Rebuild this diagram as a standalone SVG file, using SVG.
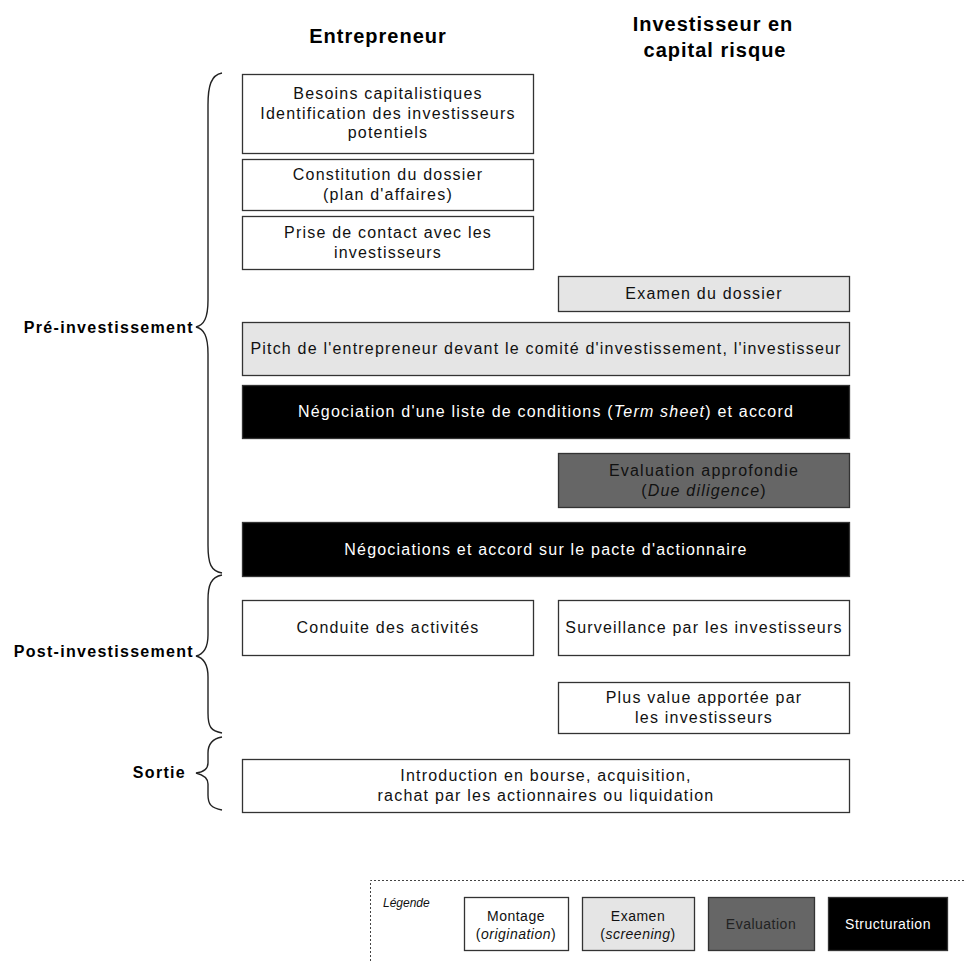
<svg xmlns="http://www.w3.org/2000/svg" width="964" height="961" viewBox="0 0 964 961">
<style>
.bg{fill:#fff}
.box{stroke:#333;stroke-width:1.3}
.w{fill:#fff}
.g{fill:#e5e5e5}
.d{fill:#666}
.k{fill:#000}
.t{font-family:"Liberation Sans",Arial,sans-serif;font-size:16px;letter-spacing:1.2px;text-anchor:middle;fill:#111}
.tw{fill:#fff}
.h{font-family:"Liberation Sans",Arial,sans-serif;font-size:20px;font-weight:bold;letter-spacing:1px;text-anchor:middle;fill:#000}
.ph{font-family:"Liberation Sans",Arial,sans-serif;font-size:16px;font-weight:bold;letter-spacing:1.3px;text-anchor:end;fill:#000}
.br{fill:none;stroke:#222;stroke-width:1.4}
.lg{font-family:"Liberation Sans",Arial,sans-serif;font-size:14px;letter-spacing:0.5px;text-anchor:middle;fill:#111}
.lgd{fill:#222}
.lgw{fill:#fff}
</style>
<rect class="bg" x="0" y="0" width="964" height="961"/>
<g id="headers">
<text class="h" x="378" y="43">Entrepreneur</text>
<text class="h" x="713" y="31">Investisseur en</text>
<text class="h" x="715" y="57">capital risque</text>
</g>
<g id="phases">
<text class="ph" x="194" y="333">Pré-investissement</text>
<text class="ph" x="194" y="657">Post-investissement</text>
<text class="ph" x="186" y="778">Sortie</text>
</g>
<g id="connectors">
<path class="br" d="M222,73 C211,75 208,86 208,105 L208,300 C208,318 204,325 196,327 C204,329 208,336 208,354 L208,545 C208,564 211,571 222,573"/>
<path class="br" d="M222,575 C211,577 208,585 208,600 L208,635 C208,648 204,654 196,656 C204,658 208,664 208,677 L208,713 C208,727 211,731 222,733"/>
<path class="br" d="M222,737 C211,739 208,745 208,753 L208,763 C208,769 204,772 196,773 C204,775 208,778 208,784 L208,795 C208,804 211,808 222,810"/>
</g>
<g id="n1"><rect class="box w" x="242.5" y="74.5" width="291" height="79"/>
<text class="t" x="388" y="99">Besoins capitalistiques</text>
<text class="t" x="388" y="119">Identification des investisseurs</text>
<text class="t" x="388" y="138">potentiels</text></g>
<g id="n2"><rect class="box w" x="242.5" y="159.5" width="291" height="51"/>
<text class="t" x="388" y="180">Constitution du dossier</text>
<text class="t" x="388" y="200">(plan d'affaires)</text></g>
<g id="n3"><rect class="box w" x="242.5" y="216.5" width="291" height="53"/>
<text class="t" x="388" y="238">Prise de contact avec les</text>
<text class="t" x="388" y="258">investisseurs</text></g>
<g id="n4"><rect class="box g" x="558.5" y="276.5" width="291" height="35"/>
<text class="t" x="704" y="299">Examen du dossier</text></g>
<g id="n5"><rect class="box g" x="242.5" y="322.5" width="607" height="53"/>
<text class="t" x="546" y="354">Pitch de l'entrepreneur devant le comité d'investissement, l'investisseur</text></g>
<g id="n6"><rect class="box k" x="242.5" y="385.5" width="607" height="53"/>
<text class="t tw" x="546" y="417">Négociation d'une liste de conditions (<tspan font-style="italic">Term sheet</tspan>) et accord</text></g>
<g id="n7"><rect class="box d" x="558.5" y="453.5" width="291" height="54"/>
<text class="t" x="704" y="476">Evaluation approfondie</text>
<text class="t" x="704" y="496">(<tspan font-style="italic">Due diligence</tspan>)</text></g>
<g id="n8"><rect class="box k" x="242.5" y="522.5" width="607" height="54"/>
<text class="t tw" x="546" y="555">Négociations et accord sur le pacte d'actionnaire</text></g>
<g id="n9"><rect class="box w" x="242.5" y="600.5" width="291" height="55"/>
<text class="t" x="388" y="633">Conduite des activités</text></g>
<g id="n10"><rect class="box w" x="558.5" y="600.5" width="291" height="55"/>
<text class="t" x="704" y="633">Surveillance par les investisseurs</text></g>
<g id="n11"><rect class="box w" x="558.5" y="682.5" width="291" height="51"/>
<text class="t" x="704" y="703">Plus value apportée par</text>
<text class="t" x="704" y="723">les investisseurs</text></g>
<g id="n12"><rect class="box w" x="242.5" y="759.5" width="607" height="53"/>
<text class="t" x="546" y="781">Introduction en bourse, acquisition,</text>
<text class="t" x="546" y="801">rachat par les actionnaires ou liquidation</text></g>
<g id="legend">
<path d="M370.5,961 L370.5,880.5 L964,880.5" fill="none" stroke="#444" stroke-width="1" stroke-dasharray="2,2"/>
<text x="383" y="907" font-family="'Liberation Sans',Arial,sans-serif" font-size="12" font-style="italic" fill="#111">Légende</text>
<rect class="box w" x="464.5" y="897.5" width="104" height="53"/>
<text class="lg" x="516" y="921">Montage</text>
<text class="lg" x="516" y="939">(<tspan font-style="italic">origination</tspan>)</text>
<rect class="box g" x="582.5" y="897.5" width="112" height="53"/>
<text class="lg" x="638" y="921">Examen</text>
<text class="lg" x="638" y="939">(<tspan font-style="italic">screening</tspan>)</text>
<rect class="box d" x="708.5" y="897.5" width="106" height="53"/>
<text class="lg lgd" x="761" y="929">Evaluation</text>
<rect class="box k" x="828.5" y="897.5" width="119" height="53"/>
<text class="lg lgw" x="888" y="929">Structuration</text>
</g>
</svg>
